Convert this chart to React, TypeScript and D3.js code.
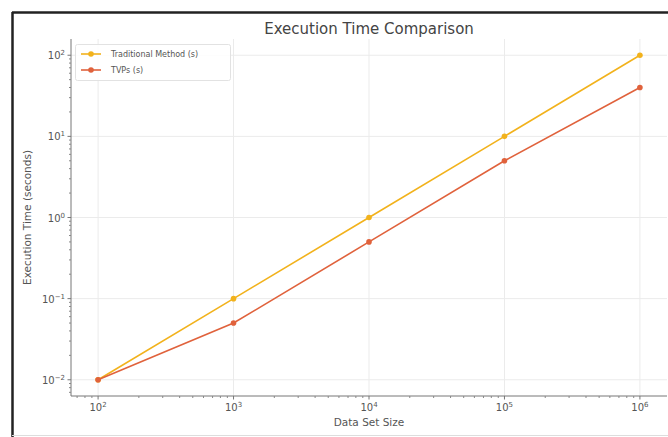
import React from 'react';
import * as d3 from 'd3';

const dataSizes = [1e2, 1e3, 1e4, 1e5, 1e6];
const traditionalTimes = [0.01, 0.1, 1, 10, 100];
const tvpTimes = [0.01, 0.05, 0.5, 5, 40];
const xTickExps = [2, 3, 4, 5, 6];
const yTickExps = [-2, -1, 0, 1, 2];
const seriesNames = ['Traditional Method (s)', 'TVPs (s)'];
const seriesColors = ['#f2b21c', '#e0623c'];

const W = 668;
const H = 437;
const plot = { left: 71, right: 667, top: 39, bottom: 396 };

// 10 with a raised exponent, like matplotlib's log tick labels
const Pow = ({ e }: { e: number }) => (
  <>
    10<tspan dy={-4} fontSize={7}>{String(e).replace('-', '\u2212')}</tspan>
  </>
);

const App = () => {
  const x = d3
    .scaleLog()
    .domain([Math.pow(10, 1.8), Math.pow(10, 6.2)])
    .range([plot.left, plot.right]);
  const y = d3
    .scaleLog()
    .domain([Math.pow(10, -2.2), Math.pow(10, 2.2)])
    .range([plot.bottom, plot.top]);

  const xMinor: number[] = [];
  for (let e = 1; e <= 6; e++) {
    for (let k = 2; k <= 9; k++) {
      const v = k * Math.pow(10, e);
      if (v > x.domain()[0] && v < x.domain()[1]) xMinor.push(v);
    }
  }
  const yMinor: number[] = [];
  for (let e = -3; e <= 2; e++) {
    for (let k = 2; k <= 9; k++) {
      const v = k * Math.pow(10, e);
      if (v > y.domain()[0] && v < y.domain()[1]) yMinor.push(v);
    }
  }

  const line = d3
    .line<number>()
    .x((_, i) => x(dataSizes[i]))
    .y((d) => y(d));

  const series = [traditionalTimes, tvpTimes];

  return (
    <svg
      width={W}
      height={H}
      style={{ position: 'absolute', left: 0, top: 0, background: '#fff' }}
      fontFamily="DejaVu Sans, sans-serif"
    >
      <rect x={0} y={0} width={W} height={H} fill="#fff" />
      {/* frame */}
      <line x1={12} x2={W} y1={12.5} y2={12.5} stroke="#222" strokeWidth={2.5} />
      <line x1={12.5} x2={12.5} y1={12} y2={H} stroke="#222" strokeWidth={2.5} />
      <line x1={12} x2={W} y1={435.5} y2={435.5} stroke="#ddd" strokeWidth={1} />

      {/* grid */}
      {xTickExps.map((e) => (
        <line
          key={'gx' + e}
          x1={x(Math.pow(10, e))}
          x2={x(Math.pow(10, e))}
          y1={plot.top}
          y2={plot.bottom}
          stroke="#ebebeb"
        />
      ))}
      {yTickExps.map((e) => (
        <line
          key={'gy' + e}
          x1={plot.left}
          x2={plot.right}
          y1={y(Math.pow(10, e))}
          y2={y(Math.pow(10, e))}
          stroke="#ebebeb"
        />
      ))}

      {/* axes */}
      <line x1={plot.left} x2={plot.right} y1={plot.bottom} y2={plot.bottom} stroke="#777" />
      <line x1={plot.left} x2={plot.left} y1={plot.top} y2={plot.bottom} stroke="#777" />
      {xMinor.map((v, i) => (
        <line key={'xm' + i} x1={x(v)} x2={x(v)} y1={plot.bottom} y2={plot.bottom + 2} stroke="#888" />
      ))}
      {yMinor.map((v, i) => (
        <line key={'ym' + i} x1={plot.left - 2} x2={plot.left} y1={y(v)} y2={y(v)} stroke="#888" />
      ))}
      {xTickExps.map((e) => (
        <g key={'xt' + e}>
          <line
            x1={x(Math.pow(10, e))}
            x2={x(Math.pow(10, e))}
            y1={plot.bottom}
            y2={plot.bottom + 3.5}
            stroke="#777"
          />
          <text x={x(Math.pow(10, e))} y={plot.bottom + 15} textAnchor="middle" fontSize={10} fill="#555">
            <Pow e={e} />
          </text>
        </g>
      ))}
      {yTickExps.map((e) => (
        <g key={'yt' + e}>
          <line
            x1={plot.left - 3.5}
            x2={plot.left}
            y1={y(Math.pow(10, e))}
            y2={y(Math.pow(10, e))}
            stroke="#777"
          />
          <text x={plot.left - 6} y={y(Math.pow(10, e)) + 4} textAnchor="end" fontSize={10} fill="#555">
            <Pow e={e} />
          </text>
        </g>
      ))}

      {/* series */}
      {series.map((vals, si) => (
        <g key={'s' + si}>
          <path d={line(vals) || ''} fill="none" stroke={seriesColors[si]} strokeWidth={1.6} />
          {vals.map((v, i) => (
            <circle key={i} cx={x(dataSizes[i])} cy={y(v)} r={2.8} fill={seriesColors[si]} />
          ))}
        </g>
      ))}

      {/* legend */}
      <rect x={75.5} y={44.5} width={155} height={36} rx={2} fill="#fff" fillOpacity={0.85} stroke="#e2e2e2" />
      {seriesNames.map((name, i) => (
        <g key={'lg' + i} transform={`translate(0, ${54 + i * 16})`}>
          <line x1={81} x2={101} y1={0} y2={0} stroke={seriesColors[i]} strokeWidth={1.6} />
          <circle cx={91} cy={0} r={2.8} fill={seriesColors[i]} />
          <text x={111} y={3} fontSize={8} fill="#555">
            {name}
          </text>
        </g>
      ))}

      {/* titles */}
      <text x={(plot.left + plot.right) / 2} y={34} textAnchor="middle" fontSize={15} fill="#444">
        Execution Time Comparison
      </text>
      <text x={(plot.left + plot.right) / 2} y={426} textAnchor="middle" fontSize={10.5} fill="#555">
        Data Set Size
      </text>
      <text
        transform={`translate(31, ${(plot.top + plot.bottom) / 2}) rotate(-90)`}
        textAnchor="middle"
        fontSize={10.5}
        fill="#555"
      >
        Execution Time (seconds)
      </text>
    </svg>
  );
};

export default App;
